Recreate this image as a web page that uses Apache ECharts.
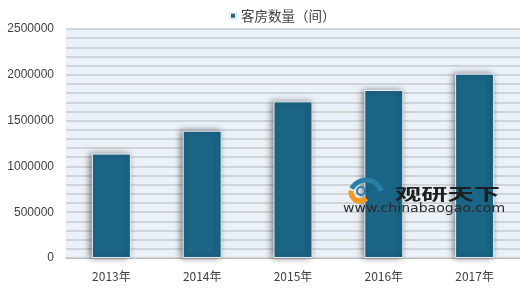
<!DOCTYPE html>
<html><head><meta charset="utf-8">
<script src="https://cdn.jsdelivr.net/npm/echarts@6/dist/echarts.min.js"></script>
<style>html,body{margin:0;padding:0;background:#fff}#c{width:520px;height:291px}</style>
</head><body><div id="c"></div>
<script>
var categories = ['2013年','2014年','2015年','2016年','2017年'];
var seriesName = '客房数量（间）';
var roomCounts = [1140000, 1390000, 1710000, 1834000, 2012000];
var yTicks = [0, 500000, 1000000, 1500000, 2000000, 2500000];

var chart = echarts.init(document.getElementById('c'));
chart.setOption({
  animation: false,
  legend: {
    top: 4, left: 224, itemWidth: 6, itemHeight: 6, itemGap: 4,
    icon: 'rect',
    textStyle: {fontSize: 13.5, color: '#404040', fontFamily: 'Noto Sans CJK SC'},
    data: [seriesName]
  },
  grid: {left: 66, top: 29, width: 460, height: 229, backgroundColor: '#eaf1f8', show: true, borderWidth: 0},
  xAxis: {
    type: 'category', data: categories,
    axisLine: {lineStyle: {color: '#bfbfbf'}},
    axisTick: {show: false},
    axisLabel: {fontSize: 12, color: '#404040', margin: 12, fontFamily: 'Noto Sans CJK SC'}
  },
  yAxis: {
    type: 'value', min: yTicks[0], max: yTicks[yTicks.length-1], interval: 500000,
    axisLine: {show: false}, axisTick: {show: false},
    axisLabel: {fontSize: 12, color: '#404040', margin: 12, fontFamily: 'Liberation Sans',
      formatter: function(v){ return String(v); }},
    splitLine: {show: true, lineStyle: {color: '#c8cacc', width: 1.5}},
    minorTick: {show: false, splitNumber: 5},
    minorSplitLine: {show: true, lineStyle: {color: '#c8cacc', width: 1.5}}
  },
  series: [{
    name: seriesName, type: 'bar', data: roomCounts, barWidth: 39,
    itemStyle: {color: '#1b6586', borderColor: '#e8eef2', borderWidth: 1,
      shadowColor: 'rgba(0,0,0,0.45)', shadowBlur: 6, shadowOffsetX: -2, shadowOffsetY: 0}
  }],
  graphic: [
    {type: 'text', z: 100, x: 395, y: 186, scaleX: 1.38, scaleY: 0.85, style: {text: '观研天下', font: 'bold 19px "Noto Sans CJK SC"', fill: '#1e1e1e'}},
    {type: 'text', z: 100, x: 343, y: 202, scaleX: 1.08, style: {text: 'www.chinabaogao.com', font: '13px "DejaVu Sans"', fill: '#2a2a2a'}},
    {type: 'arc', z: 100, shape: {cx: 360, cy: 192, r: 9, startAngle: Math.PI*0.25, endAngle: Math.PI*1.05}, style: {stroke: '#f39a1e', lineWidth: 5, fill: null}},
    {type: 'arc', z: 100, shape: {cx: 366, cy: 196, r: 16, startAngle: Math.PI*1.15, endAngle: Math.PI*1.9}, style: {stroke: '#2a7fa6', lineWidth: 5, fill: null}},
    {type: 'circle', z: 100, shape: {cx: 361, cy: 191, r: 4}, style: {stroke: '#2a7fa6', lineWidth: 2, fill: null}}
  ]
});
</script></body></html>
